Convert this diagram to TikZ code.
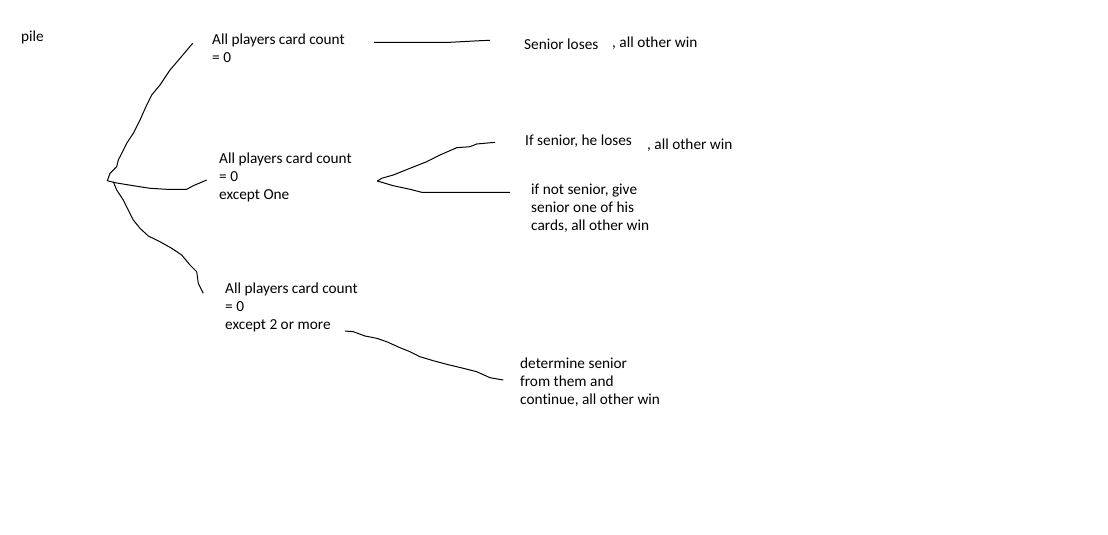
\documentclass[tikz,border=0pt]{standalone}
\usepackage{fontspec}
\setmainfont[Ligatures={NoCommon}]{Carlito}
\begin{document}
\begin{tikzpicture}[x=1pt,y=-1pt,
  txt/.style={anchor=base west,inner sep=0pt,align=left,font=\fontsize{15.3pt}{18pt}\selectfont,text=black},
  hand/.style={line width=1pt,line join=round,black}]
\useasboundingbox[fill=white] (0,0) rectangle (1108,535);
% texts (anchor = baseline of the last line)
\node[txt] (pile) at (21,42) {pile};
\node[txt] (n1) at (212,63) {All players card count\\= 0};
\node[txt] (n2) at (219,199) {All players card count\\= 0\\except One};
\node[txt] (n3) at (225,329) {All players card count\\= 0\\except 2 or more};
\node[txt] (r1) at (524,49) {Senior loses};
\node[txt] (r1b) at (612,48) {, all other win};
\node[txt] (r2) at (525,145) {If senior, he loses};
\node[txt] (r2b) at (647,149) {, all other win};
\node[txt] (r3) at (531,230) {if not senior, give\\senior one of his\\cards, all other win};
\node[txt] (r4) at (520,404) {determine senior\\from them and\\continue, all other win};
% connector ends
\coordinate (root) at (107.3,180.7);
\coordinate (e1) at (192.7,43.3);
\coordinate (e2) at (206.7,180);
\coordinate (s3) at (113.3,181.7);
\coordinate (e3) at (203.3,293.3);
\coordinate (a1) at (374,42.3);
\coordinate (b1) at (490,40.3);
\coordinate (fork) at (377.3,181);
\coordinate (b2) at (495,142.3);
\coordinate (b3) at (510,192.3);
\coordinate (a4) at (345,331);
\coordinate (b4) at (503.3,380);
% hand-drawn connectors
\draw[hand] (root) -- (110,173.3) -- (116.7,166.7) -- (118.3,160) -- (121.7,153.3) -- (126.7,143.3) -- (133.3,133.3) -- (140,120) -- (146.7,105) -- (151.7,95) -- (160,85) -- (170,70) -- (180,58.3) -- (e1);
\draw[hand] (root) -- (115,182.7) -- (133.3,185.7) -- (150,188.3) -- (166.7,189.3) -- (186.7,189.3) -- (193.3,185.7) -- (e2);
\draw[hand] (s3) -- (116.7,190) -- (123.3,200) -- (128.3,210) -- (133.3,220) -- (140,228.3) -- (148.3,236) -- (160,241.7) -- (171.7,248.3) -- (181.7,255) -- (190,265) -- (196.7,271.7) -- (198.3,283.3) -- (e3);
\draw[hand] (a1) -- (450,42.3) -- (480,40.7) -- (b1);
\draw[hand] (fork) -- (381.7,178.3) -- (393.3,175) -- (410,168.3) -- (426.7,161.7) -- (440,155) -- (456.7,147.7) -- (470,146.7) -- (476.7,144) -- (b2);
\draw[hand] (fork) -- (393.3,185.7) -- (410,189.3) -- (421.7,192.3) -- (b3);
\draw[hand] (a4) -- (353.3,331.7) -- (365,336) -- (376.7,338.3) -- (386.7,341.7) -- (400,347.7) -- (410,351.7) -- (420,356.7) -- (433.3,360.7) -- (446.7,364.3) -- (463.3,368.3) -- (476.7,371.7) -- (490,377.7) -- (b4);
\end{tikzpicture}
\end{document}
